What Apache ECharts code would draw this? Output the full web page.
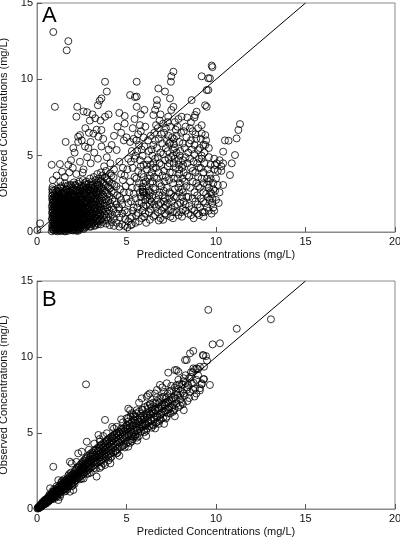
<!DOCTYPE html>
<html><head><meta charset="utf-8">
<script src="https://cdn.jsdelivr.net/npm/echarts@6/dist/echarts.min.js"></script>
<style>html,body{margin:0;padding:0;background:#fff}#c{width:400px;height:541px}</style>
</head><body><div id="c"></div>
<script>
// ---------- tick labels ----------
const xTicks = [0, 5, 10, 15, 20];
const yTicks = [0, 5, 10, 15];
const xTitle = 'Predicted Concentrations (mg/L)';
const yTitle = 'Observed Concentrations (mg/L)';
const identityLine = [[0, 0], [15, 15]];

// ---------- Panel A (observed vs population predicted) ----------
const aCoreLow = [[0.02,0.12],[0.17,0.57],
[0.82,0.05],[0.86,0.22],[0.84,0.41],[0.88,0.63],[0.83,0.85],[0.87,1.05],[0.93,0.12],[0.97,0.34],[0.95,0.55],[0.99,0.78],[0.94,0.98],[1.04,0.08],[1.06,0.27],[1.02,0.47],[1.08,0.69],[1.05,0.9],[1.09,1.12],[1.14,0.04],[1.17,0.18],[1.13,0.38],[1.19,0.58],[1.15,0.8],[1.18,1.0],[1.24,0.1],[1.27,0.3],[1.23,0.5],[1.29,0.72],[1.26,0.94],[1.33,0.06],[1.36,0.22],[1.32,0.42],[1.38,0.63],[1.35,0.85],[1.39,1.08],[1.44,0.13],[1.47,0.33],[1.43,0.55],[1.49,0.76],[1.46,0.98],[1.53,0.05],[1.56,0.25],[1.52,0.46],[1.58,0.67],[1.55,0.89],[1.59,1.1],[1.64,0.15],[1.67,0.36],[1.63,0.58],[1.69,0.8],[1.66,1.02],[1.73,0.08],[1.76,0.28],[1.72,0.5],[1.78,0.71],[1.75,0.93],[1.83,0.18],[1.86,0.4],[1.82,0.62],[1.88,0.84],[1.85,1.06],[1.93,0.12],[1.96,0.32],[1.92,0.54],[1.98,0.76],[1.95,0.98],[2.03,0.22],[2.06,0.44],[2.02,0.66],[2.08,0.88],[2.05,1.1],[2.13,0.15],[2.16,0.36],[2.12,0.58],[2.18,0.8],[2.15,1.02],[2.24,0.26],[2.27,0.48],[2.23,0.7],[2.29,0.92],[2.33,0.2],[2.36,0.41],[2.32,0.63],[2.38,0.85],[2.35,1.08],[2.44,0.3],[2.47,0.52],[2.43,0.74],[2.49,0.96],[2.54,0.25],[2.57,0.46],[2.53,0.68],[2.58,0.9],[2.64,0.38],[2.67,0.6],[2.63,0.82],[2.68,1.05],
[1.1,0.15],[1.4,0.2],[1.6,0.05],[1.9,0.25],[2.2,0.08],[1.2,0.62],[1.5,0.72],[1.8,0.55],[2.1,0.68],[2.4,0.58],[1.0,0.6],[1.3,0.78],[1.65,0.45],[1.95,0.42],[2.25,0.35]];

const aCoreHigh = [[0.84,1.25],[0.86,1.46],[0.83,1.68],[0.87,1.9],[0.85,2.12],[0.84,2.35],[0.86,2.58],[0.85,2.8],[0.87,2.95],[0.96,1.2],[0.98,1.42],[0.94,1.65],[0.97,1.88],[0.95,2.1],[0.99,2.4],[1.05,1.3],[1.08,1.55],[1.04,1.78],[1.07,2.02],[1.06,2.3],[1.09,2.65],[1.16,1.22],[1.18,1.45],[1.14,1.7],[1.19,1.95],[1.15,2.2],[1.18,2.5],[1.16,2.85],[1.26,1.35],[1.28,1.6],[1.24,1.85],[1.29,2.1],[1.25,2.38],[1.27,2.72],[1.36,1.28],[1.38,1.52],[1.34,1.76],[1.39,2.0],[1.35,2.28],[1.37,2.6],[1.36,3.0],[1.46,1.2],[1.48,1.44],[1.44,1.68],[1.49,1.93],[1.45,2.2],[1.47,2.5],[1.46,2.85],[1.56,1.33],[1.58,1.58],[1.54,1.82],[1.59,2.08],[1.55,2.36],[1.57,2.7],[1.56,3.2],[1.66,1.24],[1.68,1.5],[1.64,1.74],[1.69,2.0],[1.65,2.28],[1.67,2.6],[1.66,2.95],[1.76,1.38],[1.78,1.62],[1.74,1.88],[1.79,2.15],[1.75,2.45],[1.77,2.8],[1.86,1.3],[1.88,1.55],[1.84,1.8],[1.89,2.06],[1.85,2.35],[1.87,2.7],[1.86,3.1],[1.96,1.22],[1.98,1.48],[1.94,1.72],[1.99,1.98],[1.95,2.25],[1.97,2.55],[1.96,2.9],[2.06,1.35],[2.08,1.6],[2.04,1.86],[2.09,2.12],[2.05,2.42],[2.07,2.78],[2.06,3.25],[2.16,1.28],[2.18,1.52],[2.14,1.78],[2.19,2.05],[2.15,2.33],[2.17,2.66],[2.16,3.05],[2.26,1.18],[2.28,1.44],[2.24,1.7],[2.29,1.96],[2.25,2.25],[2.27,2.58],[2.26,2.95],[2.36,1.32],[2.38,1.58],[2.34,1.84],[2.39,2.1],[2.35,2.4],[2.37,2.75],[2.36,3.3],[2.46,1.25],[2.48,1.5],[2.44,1.76],[2.49,2.02],[2.45,2.32],[2.47,2.65],[2.46,3.0],[2.56,1.15],[2.58,1.4],[2.54,1.66],[2.59,1.92],[2.55,2.2],[2.57,2.52],[2.56,2.88],[2.56,3.4],[2.66,1.3],[2.68,1.56],[2.64,1.82],[2.69,2.1],[2.65,2.4],[2.67,2.78],[2.66,3.2]];

const aCoreExtra = [[0.9,0.15],[0.91,0.45],[0.9,0.75],[0.92,1.15],[0.9,1.55],[0.91,2.0],[0.9,2.45],
[1.0,0.25],[1.01,0.95],[1.0,1.5],[1.02,2.2],[1.01,2.75],[1.11,0.45],[1.1,0.75],[1.12,1.35],[1.1,1.85],[1.11,2.4],
[1.21,0.25],[1.2,0.95],[1.22,1.6],[1.21,2.05],[1.2,2.65],[1.31,0.35],[1.3,1.1],[1.32,1.5],[1.31,2.25],[1.3,2.9],
[1.41,0.45],[1.4,0.88],[1.42,1.35],[1.41,1.8],[1.4,2.5],[1.51,0.15],[1.5,0.6],[1.52,1.0],[1.51,1.45],[1.5,2.0],[1.52,2.6],
[1.61,0.28],[1.6,0.85],[1.62,1.2],[1.61,1.65],[1.6,2.15],[1.62,2.8],[1.71,0.2],[1.7,0.65],[1.72,1.1],[1.71,1.4],[1.7,1.85],[1.72,2.4],[1.71,3.05],
[1.81,0.3],[1.8,0.95],[1.82,1.25],[1.81,1.7],[1.8,2.25],[1.82,2.6],[1.91,0.45],[1.9,0.8],[1.92,1.15],[1.91,1.5],[1.9,1.95],[1.92,2.45],[1.91,3.0],
[2.01,0.1],[2.0,0.55],[2.02,0.85],[2.01,1.25],[2.0,1.75],[2.02,2.3],[2.01,2.7],[2.11,0.3],[2.1,1.05],[2.12,1.45],[2.11,1.95],[2.1,2.45],[2.12,3.1],
[2.21,0.5],[2.2,0.9],[2.22,1.25],[2.21,1.6],[2.2,2.05],[2.22,2.75],[2.31,0.08],[2.3,0.72],[2.32,1.05],[2.31,1.45],[2.3,1.9],[2.32,2.5],[2.31,3.15],
[2.41,0.22],[2.4,0.9],[2.42,1.35],[2.41,1.85],[2.4,2.35],[2.42,2.85],[2.51,0.45],[2.5,0.75],[2.52,1.1],[2.51,1.6],[2.5,2.1],[2.52,2.7],
[2.61,0.2],[2.6,0.52],[2.62,0.95],[2.61,1.45],[2.6,1.95],[2.62,2.55],[2.61,3.0],[2.71,0.3],[2.7,0.85],[2.72,1.35],[2.71,1.9],[2.7,2.45],[2.72,3.1],
[2.81,0.4],[2.8,0.95],[2.82,1.5],[2.81,2.05],[2.8,2.65],[2.91,0.5],[2.9,1.05],[2.92,1.65],[2.91,2.25],[2.9,2.9],
[3.01,0.35],[3.0,0.9],[3.02,1.45],[3.01,2.1],[3.0,2.75],[3.11,0.6],[3.1,1.2],[3.12,1.8],[3.11,2.4],[3.1,3.05],
[3.21,0.4],[3.2,0.95],[3.22,1.55],[3.21,2.2],[3.2,2.85],[3.31,0.7],[3.3,1.35],[3.32,1.95],[3.31,2.6],
[3.41,0.5],[3.4,1.1],[3.42,1.7],[3.41,2.4],[3.4,3.1],[3.51,0.8],[3.5,1.45],[3.52,2.05],[3.51,2.75]];

const aCoreExtra2 = [[0.88,0.3],[0.89,0.95],[0.88,1.35],[0.89,1.8],[0.88,2.2],[0.89,2.7],[0.97,0.45],[0.98,1.1],[0.97,1.75],[0.98,2.25],[1.07,0.15],[1.08,0.5],[1.07,0.85],[1.08,1.65],[1.07,2.15],[1.17,0.3],[1.16,0.7],[1.17,1.3],[1.16,1.8],[1.17,2.35],[1.27,0.15],[1.26,0.6],[1.27,1.0],[1.26,1.45],[1.27,1.95],[1.37,0.35],[1.36,0.75],[1.37,1.15],[1.36,1.65],[1.37,2.15],[1.47,0.22],[1.46,0.62],[1.47,1.1],[1.46,1.55],[1.47,2.05],[1.57,0.35],[1.56,0.78],[1.57,1.22],[1.56,1.7],[1.57,2.2],[1.67,0.25],[1.66,0.68],[1.67,1.12],[1.66,1.6],[1.67,2.12],[1.77,0.4],[1.76,0.82],[1.77,1.25],[1.76,1.72],[1.77,2.3],[1.87,0.3],[1.86,0.7],[1.87,1.18],[1.86,1.62],[1.87,2.15],[1.97,0.2],[1.96,0.62],[1.97,1.1],[1.96,1.6],[1.97,2.1],[2.07,0.32],[2.06,0.78],[2.07,1.2],[2.06,1.72],[2.07,2.25],[2.17,0.45],[2.16,0.9],[2.17,1.38],[2.16,1.9],[2.27,0.15],[2.26,0.6],[2.27,1.08],[2.26,1.55],[2.27,2.1],[2.37,0.3],[2.36,0.72],[2.37,1.2],[2.36,1.7],[2.47,0.4],[2.46,0.85],[2.47,1.4],[2.46,1.9]];

const aMid = [[2.75,0.45],[2.78,0.7],[2.74,0.95],[2.79,1.2],[2.76,1.48],[2.78,1.75],[2.74,2.0],[2.79,2.3],[2.75,2.6],[2.77,2.9],[2.76,3.3],[2.85,0.55],[2.88,0.82],[2.84,1.08],[2.89,1.35],[2.85,1.62],[2.87,1.9],[2.84,2.18],[2.89,2.48],[2.86,2.8],[2.88,3.15],[2.95,0.35],[2.98,0.65],[2.94,0.92],[2.99,1.2],[2.95,1.5],[2.97,1.8],[2.94,2.08],[2.99,2.38],[2.95,2.7],[2.97,3.05],[2.96,3.5],[3.06,0.5],[3.08,0.78],[3.04,1.05],[3.09,1.32],[3.05,1.62],[3.07,1.95],[3.04,2.25],[3.09,2.55],[3.05,2.9],[3.07,3.3],[3.16,0.62],[3.18,0.9],[3.14,1.18],[3.19,1.48],[3.15,1.78],[3.17,2.1],[3.14,2.42],[3.19,2.75],[3.15,3.1],[3.17,3.6],[3.26,0.45],[3.28,0.75],[3.24,1.02],[3.29,1.3],[3.25,1.62],[3.27,1.95],[3.24,2.3],[3.29,2.62],[3.25,2.98],[3.27,3.4],[3.36,0.58],[3.38,0.88],[3.34,1.15],[3.39,1.45],[3.35,1.78],[3.37,2.12],[3.34,2.48],[3.39,2.85],[3.35,3.25],[3.37,3.8],[3.46,0.7],[3.48,1.0],[3.44,1.3],[3.49,1.62],[3.45,1.95],[3.47,2.3],[3.44,2.68],[3.49,3.05],[3.45,3.5],[3.56,0.5],[3.58,0.85],[3.54,1.15],[3.59,1.48],[3.55,1.82],[3.57,2.2],[3.54,2.58],[3.59,2.95],[3.55,3.35],[3.57,3.9],[3.66,0.65],[3.68,1.0],[3.64,1.35],[3.69,1.7],[3.65,2.05],[3.67,2.45],[3.64,2.85],[3.69,3.25],[3.65,3.7],[3.76,0.8],[3.78,1.15],[3.74,1.5],[3.79,1.9],[3.75,2.3],[3.77,2.72],[3.74,3.15],[3.79,3.6],[3.86,0.55],[3.88,0.95],[3.84,1.35],[3.89,1.75],[3.85,2.15],[3.87,2.6],[3.84,3.05],[3.89,3.5],[3.85,4.0],[3.96,0.75],[3.98,1.2],[3.94,1.6],[3.99,2.05],[3.95,2.5],[3.97,2.95],[3.94,3.4],[4.06,0.45],[4.08,0.95],[4.04,1.4],[4.09,1.88],[4.05,2.35],[4.07,2.85],[4.04,3.3],[4.09,3.85],[4.18,0.65],[4.2,1.15],[4.16,1.65],[4.21,2.15],[4.17,2.65],[4.19,3.15],[4.16,3.7],[4.3,0.4],[4.32,0.9],[4.28,1.45],[4.33,2.0],[4.29,2.55],[4.31,3.1],[4.28,3.6],[4.45,0.6],[4.47,1.2],[4.43,1.8],[4.48,2.4],[4.44,3.0],[4.6,0.35],[4.62,0.95],[4.58,1.6],[4.63,2.3],[4.75,0.5],[4.77,1.2],[4.9,0.4],[4.92,0.85],[5.05,0.3],[5.1,0.7],[5.25,0.45],[5.3,1.0]];

const aUpper = [[0.91,13.1],[1.75,12.5],[1.66,11.9],[1.0,8.2],[0.82,4.4],[1.28,4.45],[1.75,4.4],[1.6,5.9],[0.88,3.4],[1.1,3.7],[1.3,3.3],[1.55,3.6],[1.8,3.9],[2.0,4.2],[2.2,3.8],[2.4,4.6],[2.1,5.2],[2.03,5.5],[2.3,5.9],[2.4,6.35],[2.5,6.0],[2.3,6.24],[2.68,5.6],[2.87,5.5],[2.2,7.55],[2.25,8.2],[2.6,7.9],[2.8,7.85],[2.95,7.3],[3.1,7.7],[3.25,7.45],[3.4,8.3],[3.5,8.6],[3.6,8.75],[3.8,9.84],[3.9,9.2],[3.8,7.55],[3.15,6.45],[3.33,6.7],[3.6,6.68],[3.43,6.24],[2.7,6.8],[2.9,6.5],[3.0,5.9],[3.2,5.2],[3.4,4.8],[3.6,5.6],[3.0,4.5],[2.6,4.1],[2.8,4.9],[3.75,4.3],[3.9,4.9],[4.0,5.4],[4.17,5.7],[4.45,5.37],[4.3,6.3],[4.5,6.9],[4.7,6.5],[4.9,7.1],[5.0,6.2],[5.2,5.9],[4.6,4.6],[4.8,4.2],[5.1,4.8],[4.1,4.5],[4.3,4.1],[3.7,6.1],[4.0,7.7],[4.6,7.8],[4.9,7.6],[5.2,8.97],[5.47,8.84],[5.57,9.84],[5.57,8.2],[5.57,8.87],[4.85,6.0],[3.55,7.3],[2.55,3.9],[1.9,4.7],[1.4,3.95]];

const aRight = [[5.05,1.3],[5.1,1.9],[5.15,2.6],[5.2,3.3],[5.05,4.1],[5.25,4.6],[5.3,5.3],[5.4,6.1],[5.35,6.8],[5.45,7.4],[5.5,0.6],[5.55,1.1],[5.6,1.6],[5.5,2.2],[5.6,2.9],[5.55,3.5],[5.65,4.0],[5.5,5.0],[5.7,5.7],[5.65,6.4],[5.75,7.0],[5.8,7.7],[5.85,0.9],[5.9,1.4],[5.85,1.9],[5.95,2.55],[5.9,2.8],[5.92,2.62],[5.95,3.2],[5.85,3.8],[5.95,4.4],[5.9,5.0],[6.0,5.6],[5.95,6.2],[6.05,6.9],[6.0,8.0],[6.05,1.2],[6.1,1.75],[6.15,2.3],[6.1,3.0],[6.2,3.5],[6.15,4.1],[6.2,4.7],[6.25,5.3],[6.2,6.0],[6.3,0.8],[6.35,1.5],[6.4,2.0],[6.35,2.6],[6.45,3.3],[6.4,3.9],[6.5,4.5],[6.45,5.0],[6.5,5.7],[6.55,6.5],[6.5,7.66],[6.6,8.0],[6.7,8.3],[6.7,8.64],[6.78,9.4],[7.15,9.2],[6.6,1.1],[6.65,1.6],[6.7,2.1],[6.6,2.8],[6.7,3.5],[6.65,4.2],[6.75,4.9],[6.7,5.5],[6.8,6.1],[6.75,6.8],[6.85,7.3],[6.9,0.9],[6.95,1.4],[6.9,1.9],[7.0,2.4],[6.95,3.0],[7.0,3.7],[6.95,4.4],[7.05,5.1],[7.0,5.8],[7.1,6.5],[7.05,7.1],[7.15,1.2],[7.2,1.7],[7.15,2.2],[7.25,2.9],[7.2,3.6],[7.3,4.3],[7.35,4.8],[7.3,5.3],[7.4,5.8],[7.35,6.3],[7.45,6.9],[7.33,7.55],[7.43,8.75],[7.5,7.99],[7.62,8.2],[7.48,9.84],[7.5,10.2],[7.62,10.5],[7.45,1.0],[7.5,1.5],[7.55,2.0],[7.5,2.5],[7.6,3.2],[7.55,3.9],[7.65,4.5],[7.6,5.0],[7.7,5.5],[7.65,6.1],[7.75,6.7],[7.7,7.2],[7.8,1.3],[7.85,1.8],[7.8,2.3],[7.9,2.9],[7.85,3.5],[7.95,4.1],[7.9,4.7],[8.0,5.3],[7.95,5.9],[8.05,6.5],[8.08,7.55],[8.1,1.0],[8.15,1.5],[8.2,2.0],[8.15,2.6],[8.25,3.3],[8.2,3.9],[8.16,4.39],[8.3,4.9],[8.25,5.5],[8.35,6.2],[8.3,6.9],[8.4,7.5],[8.45,1.2],[8.5,1.7],[8.45,2.3],[8.55,2.9],[8.5,3.6],[8.6,4.2],[8.55,4.8],[8.65,5.4],[8.6,6.0],[8.7,6.6],[8.64,8.64],[8.8,7.5],[8.75,0.9],[8.8,1.4],[8.85,2.0],[8.8,2.6],[8.9,3.2],[8.85,3.9],[8.95,4.5],[9.0,5.37],[8.9,6.1],[9.0,6.8],[8.92,7.88],[8.83,7.66],[9.05,1.1],[9.1,1.6],[9.15,2.2],[9.1,2.9],[9.2,3.5],[9.15,4.2],[9.2,4.8],[9.2,5.0],[9.3,5.7],[9.2,6.46],[9.4,6.35],[9.2,7.0],[9.4,5.7],[9.39,8.3],[9.48,8.2],[9.57,9.3],[9.48,9.3],[9.2,10.2],[9.66,10.07],[9.57,10.07],[9.76,10.9],[9.8,10.8],[9.35,1.3],[9.4,1.9],[9.45,2.5],[9.5,3.1],[9.5,3.5],[9.55,4.1],[9.6,1.4],[9.65,2.1],[9.7,2.6],[9.75,2.5],[9.8,1.9],[9.9,4.8],[9.9,4.1],[9.94,4.39],[10.04,4.5],[10.2,4.7],[10.3,4.0],[10.4,4.5],[10.1,3.08],[10.4,3.08],[10.0,2.1],[10.15,1.9],[9.85,1.6],[10.0,3.5],[9.7,3.5],[10.4,5.26],[10.5,6.0],[10.7,5.98],[10.78,3.73],[10.88,4.5],[11.06,5.04],[11.15,6.13],[11.25,6.68],[11.34,7.07],[9.95,2.7],[10.2,2.6],[9.6,2.9],[9.9,1.4],[9.3,1.0],[10.3,4.3],[9.85,3.2],[10.1,4.0],
[5.3,0.5],[5.7,0.7],[6.1,0.6],[6.5,1.0],[6.8,0.75],[5.4,1.6],[5.8,2.3],[6.3,2.1],[6.0,1.0],[5.65,1.25],[6.25,2.7],[6.55,1.8],[5.9,2.65],[5.88,2.95],[6.85,2.6],[7.1,1.6],[7.3,1.9],[7.4,2.2],[7.7,1.7],[7.9,1.1],[8.0,1.9],[8.3,1.4],[8.6,1.1],[7.6,1.3],[7.2,1.1],[8.1,2.3],
[7.4,4.5],[7.5,4.9],[7.6,5.4],[7.45,5.9],[7.55,6.2],[7.7,4.8],[7.8,5.2],[7.65,5.75]];

const aRightExtra = [[4.6,1.5],[4.7,2.1],[4.65,2.8],[4.8,3.4],[4.75,1.8],[4.85,2.6],[4.95,3.0],[4.9,1.4],[5.0,2.2],[4.7,3.8],[4.9,3.7],
[5.2,0.9],[5.35,1.4],[5.25,2.0],[5.4,2.5],[5.3,2.9],[5.45,3.6],[5.35,4.2],[5.45,4.8],[5.6,5.3],[5.55,6.0],[5.7,1.9],[5.75,2.6],[5.7,3.2],[5.8,4.3],[5.75,4.7],[5.85,5.4],[5.8,6.6],[5.95,1.7],[5.98,2.4],[5.97,3.6],
[6.05,2.1],[6.1,2.6],[6.08,3.3],[6.12,4.4],[6.25,1.3],[6.3,1.8],[6.28,2.4],[6.32,3.2],[6.3,3.7],[6.35,4.4],[6.4,5.4],[6.35,6.3],[6.45,2.3],[6.5,2.9],[6.55,3.6],[6.5,4.2],[6.6,4.8],[6.6,6.0],[6.65,7.0],[6.75,1.3],[6.8,1.8],[6.8,2.4],[6.85,3.2],[6.8,3.9],[6.85,4.5],[6.9,5.2],[6.95,6.4],[6.9,7.7],
[7.05,0.8],[7.1,2.0],[7.08,2.7],[7.12,3.3],[7.1,4.0],[7.15,4.7],[7.2,5.5],[7.25,6.0],[7.2,6.8],[7.3,7.2],[7.35,1.4],[7.4,2.6],[7.38,3.4],[7.42,3.9],[7.6,0.9],[7.65,2.3],[7.7,2.8],[7.65,3.5],[7.75,4.2],[7.8,6.3],[7.85,6.9],[7.9,7.4],[7.95,2.6],[7.98,3.2],[7.95,3.8],[7.92,4.4],[7.98,5.0],
[8.05,1.3],[8.1,2.8],[8.12,3.5],[8.1,4.2],[8.15,4.7],[8.15,5.8],[8.2,6.6],[8.3,1.8],[8.35,2.3],[8.35,3.0],[8.38,3.7],[8.4,4.5],[8.45,5.2],[8.5,5.8],[8.55,6.8],[8.6,7.2],[8.65,1.5],[8.7,2.2],[8.7,3.3],[8.7,4.0],[8.75,4.6],[8.78,5.1],[8.8,5.7],[8.85,6.4],[8.95,1.2],[8.98,1.8],[8.95,2.4],[9.0,3.0],[9.0,3.6],[9.05,4.2],[9.05,4.8],
[9.1,5.5],[9.15,6.1],[9.25,1.3],[9.28,2.0],[9.3,2.6],[9.32,3.2],[9.3,3.9],[9.35,4.5],[9.35,5.2],[9.45,6.0],[9.5,1.6],[9.55,2.3],[9.6,3.3],[9.65,3.8],[9.7,4.4],[9.8,2.2],[9.85,2.8],[9.75,1.2],[9.6,4.9],[9.6,5.5]];

// ---------- Panel B (observed vs individual predicted) ----------
const bLow = [[0.02,0.03],[0.05,0.08],[0.08,0.04],[0.1,0.13],[0.12,0.07],[0.14,0.18],[0.16,0.11],[0.19,0.24],[0.21,0.15],[0.23,0.3],[0.25,0.19],[0.27,0.22],[0.3,0.36],[0.32,0.26],[0.34,0.42],[0.36,0.3],[0.38,0.48],[0.41,0.34],[0.43,0.54],[0.45,0.38],[0.47,0.5],[0.5,0.62],[0.52,0.42],[0.54,0.68],[0.57,0.48],[0.59,0.6],[0.61,0.75],[0.63,0.52],[0.66,0.82],[0.68,0.58],[0.7,0.7],[0.72,0.88],[0.74,0.6],[0.77,0.95],[0.79,0.66],[0.81,0.8],[0.83,1.02],[0.86,0.7],[0.88,0.9],[0.9,1.1],[0.92,0.75],[0.95,0.98],[0.97,1.18],[1.0,0.82],[1.02,1.05],[1.04,1.26],[1.06,0.9],[1.09,1.12],[1.11,1.35],[1.13,0.95],[1.16,1.2],[1.18,1.42],[1.2,1.0],[1.23,1.25],[1.25,1.5],[1.27,1.08],[1.3,1.32],[1.32,1.58],[1.34,1.12],[1.37,1.4],[1.39,1.66],[1.41,1.2],[1.44,1.46],[1.46,1.74],[1.48,1.25],[1.51,1.52],[1.53,1.8],[1.55,1.3],[1.58,1.6],[1.6,1.88],[1.62,1.38],[1.65,1.66],[1.67,1.95],[1.69,1.45],[1.72,1.72],[1.74,2.02],[1.76,1.5],[1.79,1.8],[1.81,2.1],[1.83,1.56],[1.86,1.86],[1.88,2.18],[1.9,1.62],[1.93,1.94],[1.95,2.25],[1.97,1.7],[1.99,2.0],[0.4,0.55],[0.6,0.45],[0.85,1.15],[1.05,0.75],[1.35,1.75],[1.55,1.15],[1.75,2.2],[1.95,1.5],[0.73,1.36],[1.19,1.9],[1.28,0.8],[1.19,0.59],[1.84,1.14],[0.91,2.78],[1.84,3.11],[1.94,3.0]];

const bMid = [[2.02,2.32],[2.05,1.76],[2.08,2.08],[2.1,2.5],[2.12,1.85],[2.15,2.2],[2.18,2.6],[2.2,1.92],[2.23,2.28],[2.25,2.7],[2.28,2.0],[2.3,2.38],[2.33,2.8],[2.35,2.08],[2.38,2.46],[2.4,2.9],[2.43,2.15],[2.45,2.55],[2.48,3.0],[2.5,2.22],[2.53,2.62],[2.55,3.1],[2.58,2.3],[2.6,2.72],[2.63,3.2],[2.65,2.38],[2.68,2.8],[2.7,3.3],[2.73,2.45],[2.75,2.9],[2.78,3.38],[2.8,2.52],[2.83,2.98],[2.85,3.48],[2.88,2.6],[2.9,3.05],[2.93,3.55],[2.95,2.68],[2.98,3.15],[3.0,3.65],[3.03,2.75],[3.06,3.22],[3.09,3.72],[3.12,2.82],[3.15,3.3],[3.18,3.82],[3.21,2.9],[3.24,3.38],[3.27,3.9],[3.3,2.98],[3.33,3.46],[3.36,4.0],[3.39,3.05],[3.42,3.55],[3.45,4.08],[3.48,3.12],[3.51,3.62],[3.54,4.18],[3.57,3.2],[3.6,3.7],[3.63,4.25],[3.66,3.28],[3.69,3.8],[3.72,4.35],[3.75,3.35],[3.78,3.88],[3.81,4.42],[3.84,3.42],[3.87,3.95],[3.9,4.52],[3.93,3.5],[3.96,4.05],[3.99,4.6],[4.02,3.58],[4.06,4.12],[4.1,4.7],[4.14,3.66],[4.18,4.22],[4.22,4.8],[4.26,3.75],[4.3,4.32],[4.34,4.9],[4.38,3.85],[4.42,4.42],[4.46,5.0],[4.5,3.95],[4.54,4.52],[4.58,5.1],[4.62,4.05],[4.66,4.62],[4.7,5.2],[4.74,4.12],[4.78,4.72],[4.82,5.3],[4.86,4.22],[4.9,4.82],[4.94,5.4],[4.98,4.3],
[2.3,3.66],[2.5,3.77],[2.78,4.43],[3.52,4.43],[3.43,4.87],[3.9,4.98],[4.17,4.76],[4.45,4.98],[4.45,5.41],[3.8,5.86],[2.74,8.2],[2.03,1.25],[3.33,2.13],[3.8,2.9],[4.17,3.44],[4.45,3.66],[2.6,2.0],[3.0,2.4],[3.6,2.8],[4.0,3.2],[2.2,3.1],[2.9,3.9],[3.5,4.6],[4.3,5.3],[4.8,5.7]];

const bHigh = [[5.02,4.9],[5.05,5.5],[5.08,4.4],[5.1,6.0],[5.14,5.0],[5.18,5.6],[5.2,4.54],[5.22,6.1],[5.26,5.1],[5.3,5.7],[5.34,4.6],[5.38,6.2],[5.38,4.76],[5.42,5.2],[5.46,5.8],[5.47,4.76],[5.5,4.9],[5.54,6.3],[5.58,5.35],[5.62,5.9],[5.66,5.0],[5.7,6.4],[5.74,5.45],[5.78,6.0],[5.82,5.1],[5.85,5.41],[5.86,6.55],[5.9,5.55],[5.94,6.15],[5.98,5.2],[6.02,6.7],[6.06,5.65],[6.1,6.25],[6.14,5.3],[6.18,6.8],[6.22,5.75],[6.26,6.35],[6.3,5.45],[6.34,6.9],[6.38,5.85],[6.42,6.45],[6.46,5.55],[6.5,7.0],[6.55,6.0],[6.6,6.55],[6.65,5.65],[6.7,5.74],[6.7,7.1],[6.75,6.1],[6.8,6.7],[6.85,5.8],[6.9,7.25],[6.95,6.25],[7.0,6.85],[7.05,6.0],[7.1,7.4],[7.15,6.4],[7.2,7.0],[7.25,6.07],[7.3,7.6],[7.35,6.55],[7.4,7.15],[7.45,6.3],[7.5,7.8],[7.55,6.7],[7.6,7.3],[7.65,6.5],[7.7,8.0],[7.8,6.95],[7.85,7.5],[7.9,6.7],[7.95,8.2],[8.0,7.2],[8.1,7.7],[8.15,6.9],[8.2,8.4],[8.25,7.45],[8.36,7.83],[8.4,8.0],[8.5,8.6],[8.55,7.7],[8.65,8.25],[8.83,7.94],[8.9,8.5],[9.0,8.8],[9.1,7.8],[9.2,8.2],[9.66,8.16],[9.33,8.55],[9.3,8.53],[9.33,9.36],[9.1,9.36],[8.92,9.25],[8.83,9.19],[8.73,9.25],[9.5,9.76],[9.26,10.13],[9.44,10.06],[9.3,10.1],[8.73,10.4],[8.55,10.24],[8.36,9.8],[8.27,9.8],[7.33,8.97],[7.7,9.14],[7.9,9.03],[7.8,9.14],[7.25,8.27],[6.87,8.16],[6.7,7.83],[6.3,7.6],[6.13,7.39],[5.85,7.28],[5.57,6.5],[5.38,6.07],[5.0,5.96],[5.1,6.6],[5.3,6.3],[8.73,7.83],[9.1,7.94],[9.2,8.27],
[9.57,13.1],[13.07,12.48],[11.16,11.86],[9.81,10.83],[10.22,10.9],
[5.15,5.3],[5.35,5.5],[5.55,5.6],[5.75,5.7],[5.95,5.9],[6.15,6.0],[6.35,6.2],[6.55,6.3],[6.75,6.45],[6.95,6.6],[7.15,6.8],[7.35,6.95],[7.55,7.1],[7.75,7.25],[5.25,4.8],[5.6,5.2],[6.0,5.5],[6.4,6.7],[6.8,7.0],[7.2,7.3]];

const bExtra = [[0.07,0.12],[0.11,0.09],[0.15,0.2],[0.18,0.13],[0.22,0.25],[0.26,0.17],[0.29,0.3],[0.33,0.27],[0.37,0.38],[0.4,0.3],[0.44,0.45],[0.48,0.4],[0.51,0.55],[0.55,0.47],[0.58,0.63],[0.62,0.57],[0.65,0.7],[0.69,0.65],[0.73,0.77],[0.76,0.72],[0.8,0.88],[0.84,0.82],[0.87,0.97],[0.91,0.92],[0.95,1.05],[0.99,1.0],[1.03,1.12],[1.07,1.08],[1.11,1.2],[1.15,1.1],[1.19,1.28],[1.23,1.18],[1.27,1.38],[1.31,1.25],[1.35,1.45],[1.39,1.35],[1.43,1.55],[1.47,1.42],[1.51,1.62],[1.55,1.5],[1.59,1.72],[1.63,1.58],[1.67,1.8],[1.71,1.65],[1.75,1.85],[1.79,1.72],[1.83,1.95],[1.87,1.78],[1.91,2.05],[1.95,1.88],[1.99,2.15],[2.04,1.98],[2.09,2.25],[2.14,2.05],[2.19,2.35],[2.24,2.15],[2.29,2.5],[2.34,2.25],[2.39,2.6],[2.44,2.38],[2.49,2.72],[2.54,2.48],[2.59,2.85],[2.64,2.58],[2.69,2.95],[2.74,2.68],[2.79,3.05],[2.84,2.78],[2.89,3.2],[2.94,2.88],[2.99,3.3],[3.04,3.0],[3.1,3.45],[3.16,3.1],[3.22,3.55],[3.28,3.2],[3.34,3.68],[3.4,3.3],[3.46,3.8],[3.52,3.42],[3.58,3.92],[3.64,3.52],[3.7,4.05],[3.76,3.62],[3.82,4.15],[3.88,3.75],[3.94,4.28],[4.0,3.85],[4.06,4.4],[4.12,3.95],[4.18,4.5],[4.24,4.05],[4.3,4.62],[4.36,4.15],[4.42,4.72],[4.48,4.28],[4.54,4.85],[4.6,4.38],[4.66,4.95],[4.72,4.5],[4.78,5.05],[4.84,4.6],[4.9,5.18],[4.96,4.7],[5.02,5.25],[5.1,4.8],[5.18,5.38],[5.26,4.92],[5.34,5.48],[5.42,5.05],[5.5,5.62],[5.58,5.15],[5.66,5.75],[5.74,5.28],[5.82,5.88],[5.9,5.4],[5.98,6.0],[6.06,5.52],[6.14,6.12],[6.22,5.65],[6.3,6.25],[6.38,5.8],[6.46,6.38],[6.54,5.9],[6.62,6.5],[6.7,6.05],[6.78,6.62],[6.86,6.2],[6.94,6.75],[7.02,6.35],[7.1,6.9],[7.2,6.5],[7.3,7.05],[7.4,6.65],[7.5,7.2],[7.6,6.85],[7.7,7.35],[7.8,7.7],[7.9,7.9],[8.0,7.5],[8.1,8.2],[8.2,7.6],[8.3,8.3],[8.45,8.15],[8.6,8.7],[8.75,8.3]];

const bExtra2 = [[0.3,0.45],[0.5,0.35],[0.7,0.95],[0.9,0.65],[1.1,1.5],[1.3,0.95],[1.5,1.95],[1.7,1.3],[1.9,2.4],[2.1,1.65],[2.3,2.75],[2.5,2.0],[2.7,3.15],[2.9,2.35],[3.1,3.6],[3.3,2.65],[3.5,4.0],[3.7,3.0],[3.9,4.45],[4.1,3.35],[4.3,4.85],[4.5,3.7],[4.7,5.3],[4.9,4.05],[5.1,5.75],[5.3,4.45],[5.5,6.1],[5.7,4.8],[5.9,6.5],[6.1,5.15],[6.3,6.9],[6.5,5.5],[6.7,7.35],[6.9,5.9],[7.1,7.7],[7.3,6.3],[7.5,8.1],[7.7,6.6],[7.9,8.5],[8.1,7.0],[8.3,8.8],[8.5,7.3],[8.7,9.0],[8.9,7.6],
[0.2,0.3],[0.45,0.6],[0.65,0.5],[0.95,1.3],[1.15,0.85],[1.4,1.85],[1.6,1.2],[1.8,2.3],[2.0,1.55],[2.2,2.6],[2.4,1.95],[2.6,3.0],[2.8,2.3],[3.0,3.45],[3.2,2.7],[3.4,3.85],[3.6,3.1],[3.8,4.3],[4.0,3.45],[4.2,4.65],[4.4,3.8],[4.6,5.05],[4.8,4.15],[5.0,5.5],[5.2,4.35],[5.4,5.85],[5.6,4.7],[5.8,6.25],[6.0,5.05],[6.2,6.6],[6.4,5.35],[6.6,6.95],[6.8,5.6],[7.0,7.35],[7.2,5.95],[7.4,7.75],[7.6,6.4],[7.8,8.15],[8.0,6.8],[8.2,8.6],[8.4,7.1],[8.6,9.0],[8.8,7.4],[9.0,9.2],
[3.2,4.3],[3.7,4.8],[4.2,5.4],[4.7,5.9],[5.2,6.5],[5.7,7.0],[6.2,7.5],[6.6,7.6],[7.0,8.0],[3.5,2.7],[4.1,3.0],[4.6,3.5],[5.1,4.1],[5.6,4.5],[6.1,4.8],[6.6,5.3],[7.1,5.6],[7.7,6.1],[8.2,6.5]];

const panelA = [].concat(aCoreLow, aCoreHigh, aCoreExtra, aCoreExtra2, aMid, aUpper, aRight, aRightExtra);
const panelB = [].concat(bLow, bMid, bHigh, bExtra, bExtra2);

// ---------- chart ----------
const FONT = '"Liberation Sans", Arial, sans-serif';
const TXT = '#111';
function mkX(i) {
  return {
    gridIndex: i, type: 'value', min: 0, max: 20, interval: 5,
    name: xTitle, nameLocation: 'middle', nameGap: 17,
    nameTextStyle: { color: TXT, fontSize: 11, fontFamily: FONT },
    axisLine: { show: true, onZero: false, lineStyle: { color: '#8a8a8a', width: 1 } },
    axisTick: { show: true, inside: true, length: 5, lineStyle: { color: '#555' } },
    axisLabel: { color: TXT, fontSize: 11, fontFamily: FONT, margin: 4,
      formatter: v => xTicks.includes(v) ? String(v) : '' },
    splitLine: { show: false }
  };
}
function mkY(i) {
  return {
    gridIndex: i, type: 'value', min: 0, max: 15, interval: 5,
    name: yTitle, nameLocation: 'middle', nameGap: 26,
    nameTextStyle: { color: TXT, fontSize: 11, fontFamily: FONT },
    axisLine: { show: true, onZero: false, lineStyle: { color: '#8a8a8a', width: 1 } },
    axisTick: { show: true, inside: true, length: 5, lineStyle: { color: '#555' } },
    axisLabel: { color: TXT, fontSize: 11, fontFamily: FONT, margin: 4,
      formatter: v => yTicks.includes(v) ? String(v) : '' },
    splitLine: { show: false }
  };
}
const pointStyle = { color: 'rgba(0,0,0,0)', borderColor: '#000', borderWidth: 1 };
function scatter(i, data) {
  return { type: 'scatter', xAxisIndex: i, yAxisIndex: i, data: data, symbol: 'circle',
    symbolSize: 7, itemStyle: pointStyle, silent: true, large: false, progressive: 0 };
}
function line(i) {
  return { type: 'line', xAxisIndex: i, yAxisIndex: i, data: identityLine, symbol: 'none',
    lineStyle: { color: '#000', width: 1 }, silent: true, clip: true, z: 3 };
}
const chart = echarts.init(document.getElementById('c'), null, { renderer: 'canvas' });
chart.setOption({
  animation: false,
  backgroundColor: '#fff',
  grid: [
    { left: 37, top: 3, width: 358, height: 229, show: true, borderColor: '#8a8a8a', borderWidth: 1, containLabel: false, outerBoundsMode: 'none' },
    { left: 37, top: 281, width: 358, height: 228, show: true, borderColor: '#8a8a8a', borderWidth: 1, containLabel: false, outerBoundsMode: 'none' }
  ],
  xAxis: [mkX(0), mkX(1)],
  yAxis: [mkY(0), mkY(1)],
  graphic: [
    { type: 'text', left: 42, top: 5, style: { text: 'A', font: '22px ' + FONT, fill: '#000' } },
    { type: 'text', left: 42, top: 289, style: { text: 'B', font: '22px ' + FONT, fill: '#000' } }
  ],
  series: [scatter(0, panelA), line(0), scatter(1, panelB), line(1)]
});
</script></body></html>
